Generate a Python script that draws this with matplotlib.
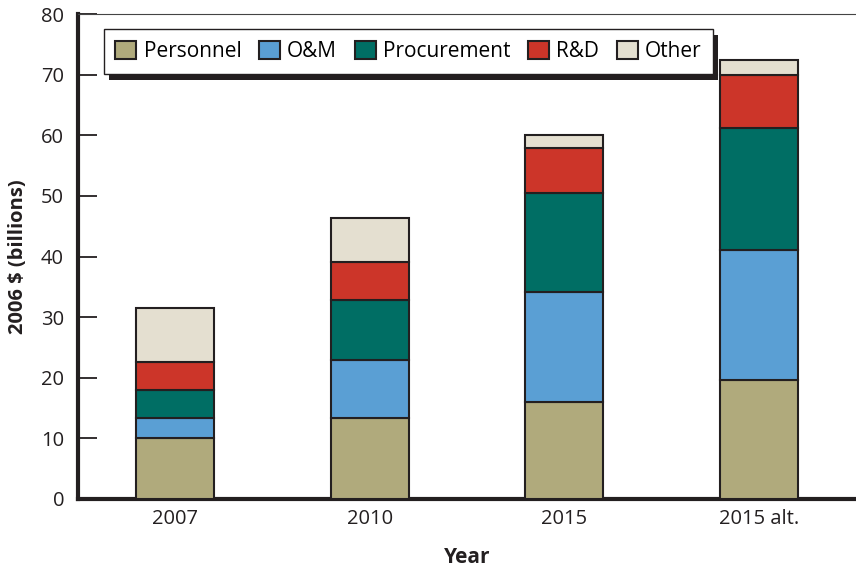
import matplotlib.pyplot as plt
from matplotlib.patches import Rectangle
import numpy as np

plt.rcParams['font.family'] = ['Open Sans', 'DejaVu Sans']

# Data (2006 $ billions)
years = ['2007', '2010', '2015', '2015 alt.']
categories = ['Personnel', 'O&M', 'Procurement', 'R&D', 'Other']
personnel = [10.0, 13.4, 16.0, 19.6]
om = [3.4, 9.5, 18.2, 21.5]
procurement = [4.6, 9.9, 16.3, 20.1]
rnd = [4.6, 6.3, 7.4, 8.8]
other = [8.9, 7.3, 2.2, 2.4]
colors = ['#b0aa7c', '#5a9fd4', '#006e64', '#cc3529', '#e4dfd0']

series = [personnel, om, procurement, rnd, other]

fig = plt.figure(figsize=(8.56, 5.72), dpi=100)
ax = fig.add_axes([78 / 856, 73 / 572, 1 - 78 / 856, 485 / 572])

x = np.arange(len(years))
bottom = np.zeros(len(years))
for name, vals, c in zip(categories, series, colors):
    ax.bar(x, vals, width=0.4, bottom=bottom, color=c, edgecolor='#231f20',
           linewidth=1.5, label=name, zorder=3)
    bottom += np.array(vals)

ax.set_xlim(-0.5, 3.5)
ax.set_ylim(0, 80)
ax.set_yticks(range(0, 81, 10))
ax.set_xticks(x)
ax.set_xticklabels(years)
ax.tick_params(axis='y', direction='in', length=14, width=1.3, labelsize=14.5,
               pad=10, colors='#231f20')
ax.tick_params(axis='x', length=0, labelsize=14.5, pad=7, colors='#231f20')

for s in ['left', 'bottom']:
    ax.spines[s].set_linewidth(3)
    ax.spines[s].set_color('#231f20')
ax.spines['top'].set_linewidth(0.8)
ax.spines['top'].set_color('#444444')
ax.spines['right'].set_visible(False)

ax.set_ylabel('2006 $ (billions)', fontsize=14.5, fontweight='bold', labelpad=9,
              color='#231f20')
ax.set_xlabel('Year', fontsize=15, fontweight='bold', labelpad=13, color='#231f20')

leg = ax.legend(loc='upper left', bbox_to_anchor=(0.02, 0.99), ncol=5,
                fontsize=15, frameon=True, fancybox=False, handlelength=1.0,
                handleheight=1.0, handletextpad=0.35, columnspacing=0.85,
                borderpad=0.55, edgecolor='#231f20', framealpha=1)
leg.get_frame().set_linewidth(1.0)
leg.set_zorder(10)

# Drop shadow behind legend
fig.canvas.draw()
bb = leg.get_window_extent()
shadow = Rectangle((bb.x0 + 5, bb.y0 - 6), bb.width, bb.height, transform=None,
                   facecolor='#231f20', edgecolor='none', zorder=9, clip_on=False)
ax.add_artist(shadow)

fig.savefig('out.png', dpi=100)
